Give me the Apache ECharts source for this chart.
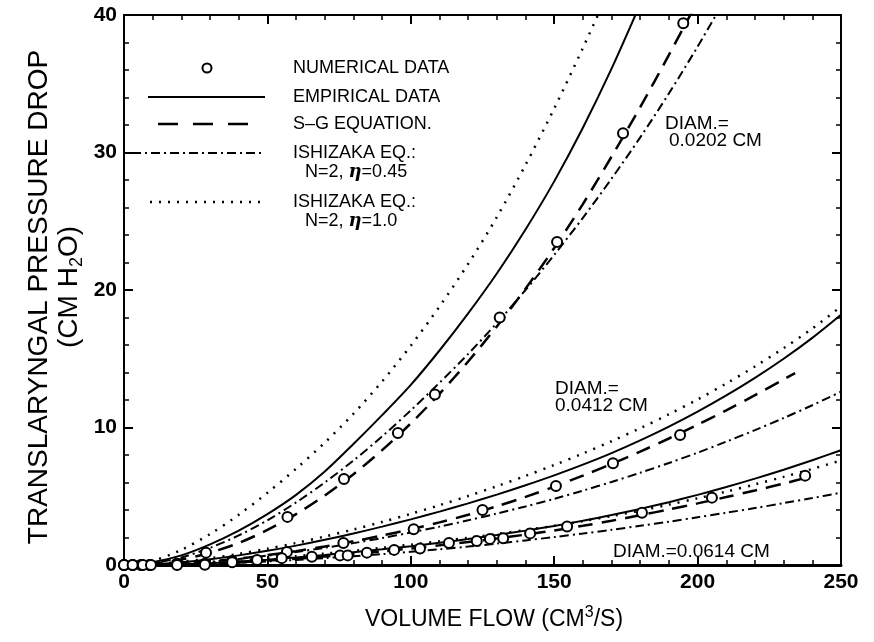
<!DOCTYPE html>
<html>
<head>
<meta charset="UTF-8">
<title>Translaryngal pressure drop vs volume flow</title>
<script src="https://cdn.jsdelivr.net/npm/echarts@6/dist/echarts.min.js"></script>
<style>
html, body { margin: 0; padding: 0; background: #fff; }
#chart { width: 874px; height: 642px; }
</style>
</head>
<body>
<div id="chart"></div>
<script>
var flowGrid = [0,10,20,30,40,50,60,70,80,90,100,110,120,130,140,150,160,170,180,190,200,210,220,230,240,250];

// DIAM. = 0.0202 cm
var emp0202 = [0,0.2,0.7,1.5,2.5,3.7,5.1,6.8,8.8,10.9,13.1,15.6,18.3,21.2,24.4,27.9,31.8,36.1,40.8];
var sg0202 = [0,0.1,0.4,0.9,1.6,2.55,3.7,5.05,6.6,8.35,10.3,12.45,14.8,17.35,20.1,23.05,26.25,29.7,33.3,37.1,41.0];
var ish045_0202 = [0,0.15,0.55,1.25,2.15,3.25,4.55,6.0,7.6,9.35,11.25,13.25,15.35,17.6,20.0,22.55,25.25,28.1,31.1,34.3,37.7,41.3];
var ish10_0202 = [0,0.3,1.1,2.25,3.65,5.25,7.0,8.9,11.0,13.35,15.95,18.8,21.9,25.3,29.1,33.2,37.6,42.2];
var numX0202 = [0,3,6,9,18.5,28.6,57,76.7,95.5,108.4,131,151,174,195];
var numY0202 = [0,0,0,0,0.1,0.9,3.5,6.25,9.6,12.4,18.0,23.5,31.4,39.4];

// DIAM. = 0.0412 cm
var emp0412 = [0,0.05,0.2,0.42,0.7,1.03,1.41,1.83,2.29,2.79,3.32,3.88,4.48,5.12,5.8,6.52,7.3,8.14,9.06,10.06,11.15,12.33,13.61,15.0,16.52,18.2];
var sgX0412 = [0,10,20,30,40,50,60,70,80,90,100,110,120,130,140,150,160,170,180,190,200,210,220,230,234];
var sg0412 = [0,0.03,0.12,0.27,0.47,0.72,1.01,1.35,1.72,2.14,2.6,3.1,3.65,4.27,4.95,5.7,6.5,7.35,8.25,9.2,10.2,11.25,12.35,13.5,13.95];
var ish045_0412 = [0,0.02,0.1,0.24,0.44,0.68,0.95,1.25,1.59,1.96,2.36,2.79,3.25,3.74,4.26,4.81,5.41,6.04,6.71,7.42,8.17,8.97,9.81,10.69,11.62,12.6];
var ish10_0412 = [0,0.05,0.23,0.49,0.81,1.18,1.6,2.07,2.58,3.13,3.72,4.35,5.02,5.73,6.48,7.27,8.11,9.0,9.95,10.96,12.04,13.2,14.44,15.77,17.2,18.8];
var numX0412 = [0,3,6,9,18.5,28.2,37.7,56.8,76.5,101,125,150.6,170.5,193.9];
var numY0412 = [0,0,0,0,0.05,0.1,0.3,0.95,1.6,2.6,4.0,5.75,7.4,9.45];

// DIAM. = 0.0614 cm
var emp0614 = [0,0.01,0.05,0.13,0.25,0.39,0.55,0.73,0.93,1.14,1.37,1.62,1.89,2.18,2.5,2.84,3.22,3.63,4.08,4.57,5.1,5.67,6.28,6.93,7.62,8.35];
var sgX0614 = [0,10,20,30,40,50,60,70,80,90,100,110,120,130,140,150,160,170,180,190,200,210,220,230,238];
var sg0614 = [0,0.01,0.04,0.1,0.2,0.32,0.46,0.62,0.8,0.99,1.2,1.43,1.67,1.93,2.21,2.51,2.85,3.22,3.62,4.04,4.48,4.94,5.42,5.92,6.35];
var ish045_0614 = [0,0.005,0.03,0.08,0.16,0.26,0.37,0.5,0.64,0.79,0.96,1.14,1.34,1.56,1.79,2.03,2.29,2.56,2.85,3.15,3.47,3.8,4.14,4.5,4.87,5.26];
var ish10_0614 = [0,0.01,0.06,0.16,0.3,0.46,0.64,0.83,1.03,1.25,1.48,1.72,1.98,2.25,2.54,2.85,3.19,3.56,3.96,4.39,4.85,5.34,5.86,6.41,6.99,7.6];
var numX0614 = [0,3,6.6,9.4,18.5,28.2,37.7,46.4,55,65.5,75.3,78,84.7,94.2,103.2,113.3,123,127.6,132.2,141.6,154.5,180.6,205,237.5];
var numY0614 = [0,0,0,0,0,0.02,0.2,0.36,0.5,0.6,0.7,0.7,0.9,1.1,1.2,1.6,1.75,1.9,1.95,2.3,2.8,3.8,4.9,6.5];

var xTicks = [0,50,100,150,200,250];
var yTicks = [0,10,20,30,40];

var FONT = '"Liberation Sans", Arial, sans-serif';
var DASHED = [15, 9];
var DASHDOT = [9, 4, 2, 4];
var DOTTED = [2, 7];

function pairs(xs, ys) {
  var out = [];
  for (var i = 0; i < ys.length; i++) out.push([xs[i], ys[i]]);
  return out;
}

function curve(xs, ys, dash, width) {
  return {
    type: 'line',
    data: pairs(xs, ys),
    showSymbol: false,
    symbol: 'none',
    smooth: 0.3,
    clip: true,
    silent: true,
    lineStyle: { color: '#000', width: width, type: dash }
  };
}

function points(xs, ys) {
  return {
    type: 'scatter',
    data: pairs(xs, ys),
    symbol: 'circle',
    symbolSize: 10,
    silent: true,
    z: 5,
    itemStyle: { color: '#fff', borderColor: '#000', borderWidth: 2, opacity: 1 }
  };
}

var series = [
  curve(flowGrid, emp0202, 'solid', 2),
  curve(flowGrid, sg0202, DASHED, 2.5),
  curve(flowGrid, ish045_0202, DASHDOT, 2),
  curve(flowGrid, ish10_0202, DOTTED, 2.5),
  curve(flowGrid, emp0412, 'solid', 2),
  curve(sgX0412, sg0412, DASHED, 2.5),
  curve(flowGrid, ish045_0412, DASHDOT, 2),
  curve(flowGrid, ish10_0412, DOTTED, 2.5),
  curve(flowGrid, emp0614, 'solid', 2),
  curve(sgX0614, sg0614, DASHED, 2.5),
  curve(flowGrid, ish045_0614, DASHDOT, 2),
  curve(flowGrid, ish10_0614, DOTTED, 2.5),
  points(numX0202, numY0202),
  points(numX0412, numY0412),
  points(numX0614, numY0614)
];

function axisBase(pos, min, max, interval, ticks, showLabel, lineWidth) {
  return {
    type: 'value',
    position: pos,
    min: min, max: max, interval: interval,
    axisLine: { show: true, onZero: false, lineStyle: { color: '#000', width: lineWidth } },
    axisTick: { show: true, inside: true, length: 9, lineStyle: { color: '#000', width: 2 } },
    minorTick: { show: true, splitNumber: 5, length: 5, lineStyle: { color: '#000', width: 1.5 } },
    splitLine: { show: false },
    axisLabel: {
      show: showLabel,
      color: '#000',
      fontFamily: FONT,
      fontWeight: 'bold',
      fontSize: 21,
      margin: 7,
      formatter: function (v) { return ticks.indexOf(v) >= 0 ? String(v) : ''; }
    }
  };
}

// legend drawn by hand so the two-line entries sit like the original
var legendItems = [
  { y: 68, kind: 'circle', text: 'NUMERICAL DATA' },
  { y: 97, kind: 'solid', text: 'EMPIRICAL DATA' },
  { y: 124, kind: 'dashed', text: 'S\u2013G EQUATION.' },
  { y: 153, kind: 'dashdot', text: 'ISHIZAKA EQ.:', text2: '{n|N=2, }{eta|\u03b7}{n|=0.45}' },
  { y: 202, kind: 'dotted', text: 'ISHIZAKA EQ.:', text2: '{n|N=2, }{eta|\u03b7}{n|=1.0}' }
];
var legendLine = {
  solid: { x1: 148, x2: 265, dash: null, w: 2 },
  dashed: { x1: 158, x2: 248, dash: [20, 15], w: 2.5 },
  dashdot: { x1: 132, x2: 265, dash: DASHDOT, w: 2 },
  dotted: { x1: 150, x2: 264, dash: DOTTED, w: 2.5 }
};

var graphics = [];
legendItems.forEach(function (it) {
  if (it.kind === 'circle') {
    graphics.push({ type: 'circle', shape: { cx: 207, cy: it.y, r: 4.5 },
      style: { fill: '#fff', stroke: '#000', lineWidth: 2 } });
  } else {
    var l = legendLine[it.kind];
    graphics.push({ type: 'line', shape: { x1: l.x1, y1: it.y, x2: l.x2, y2: it.y },
      style: { stroke: '#000', lineWidth: l.w, lineDash: l.dash } });
  }
  graphics.push({ type: 'text', left: 293, top: it.y - 9,
    style: { text: it.text, fontFamily: FONT, fontSize: 18, fill: '#000' } });
  if (it.text2) {
    graphics.push({ type: 'text', left: 305, top: it.y + 10,
      style: { text: it.text2, fontFamily: FONT, fontSize: 18, fill: '#000',
        rich: {
          n: { fontFamily: FONT, fontSize: 18, fill: '#000' },
          eta: { fontFamily: '"DejaVu Serif", serif', fontStyle: 'italic', fontWeight: 'bold', fontSize: 18, fill: '#000' }
        } } });
  }
});

// diameter annotations
[
  { x: 665, y: 114, t: 'DIAM.=' }, { x: 669, y: 131, t: '0.0202 CM' },
  { x: 555, y: 379, t: 'DIAM.=' }, { x: 555, y: 396, t: '0.0412 CM' },
  { x: 613, y: 542, t: 'DIAM.=0.0614 CM' }
].forEach(function (a) {
  graphics.push({ type: 'text', left: a.x, top: a.y,
    style: { text: a.t, fontFamily: FONT, fontSize: 19, fill: '#000' } });
});

// axis titles
graphics.push({
  type: 'text', x: 39, y: 297, rotation: Math.PI / 2,
  style: { text: 'TRANSLARYNGAL PRESSURE DROP', fontFamily: FONT, fontSize: 28,
    fill: '#000', align: 'center', verticalAlign: 'middle' }
});
graphics.push({
  type: 'text', x: 69, y: 287, rotation: Math.PI / 2,
  style: { text: '{m|(CM H}{s|2}{m|O)}', align: 'center', verticalAlign: 'middle',
    rich: {
      m: { fontFamily: FONT, fontSize: 28, fill: '#000', lineHeight: 34 },
      s: { fontFamily: FONT, fontSize: 18, fill: '#000', verticalAlign: 'bottom', lineHeight: 18 }
    } }
});
graphics.push({
  type: 'text', x: 494, y: 620,
  style: { text: '{m|VOLUME FLOW (CM}{s|3}{m|/S)}', align: 'center', verticalAlign: 'middle',
    rich: {
      m: { fontFamily: FONT, fontSize: 23, fill: '#000', lineHeight: 30 },
      s: { fontFamily: FONT, fontSize: 16, fill: '#000', verticalAlign: 'top', lineHeight: 16 }
    } }
});

var chart = echarts.init(document.getElementById('chart'), null, { renderer: 'canvas' });
chart.setOption({
  backgroundColor: '#fff',
  animation: false,
  grid: { left: 124, top: 15, width: 717, height: 550, containLabel: false },
  xAxis: [
    axisBase('bottom', 0, 250, 50, xTicks, true, 3),
    axisBase('top', 0, 250, 50, xTicks, false, 2)
  ],
  yAxis: [
    axisBase('left', 0, 40, 10, yTicks, true, 2),
    axisBase('right', 0, 40, 10, yTicks, false, 2)
  ],
  series: series,
  graphic: graphics
});
</script>
</body>
</html>
